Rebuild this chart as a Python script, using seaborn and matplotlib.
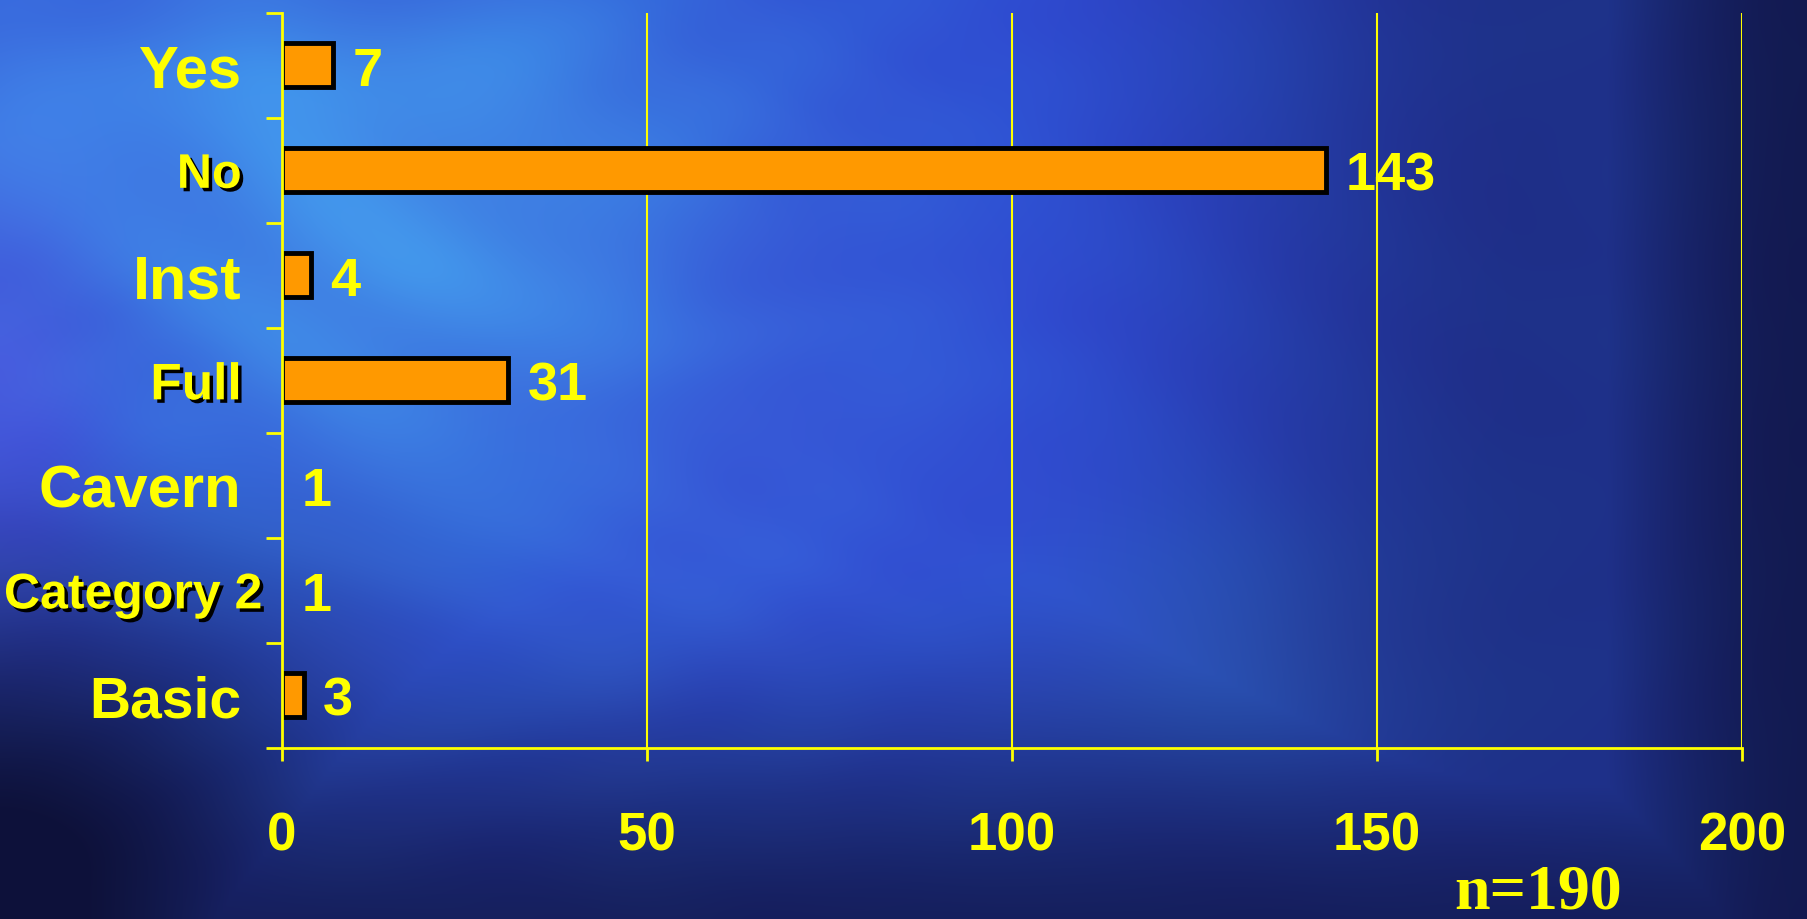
import numpy as np
import pandas as pd
import matplotlib
matplotlib.use("Agg")
import matplotlib.pyplot as plt
import matplotlib.patheffects as pe
import seaborn as sns

# data
categories = ["Yes", "No", "Inst", "Full", "Cavern", "Category 2", "Basic"]
counts = [7, 143, 4, 31, 1, 1, 3]
# Cavern and Category 2 carry a label but show no bar on the slide
bar_lengths = [7, 143, 4, 31, 0, 0, 3]
x_ticks = [0, 50, 100, 150, 200]
note = "n=190"

# label styling per category
label_sizes = [43, 35, 44, 37, 43, 36, 41]
shadowed = [False, True, False, True, False, True, False]

YELLOW = "#FFFF00"
ORANGE = "#FF9900"

sns.set_theme(style="white")
plt.rcParams["font.family"] = ["Liberation Sans", "DejaVu Sans"]

# ---- slide background (cloudy blue) ----
H, W = 460, 904
v, u = np.mgrid[0:1:H * 1j, 0:1:W * 1j]


def blob(cx, cy, sx, sy):
    return np.exp(-(((u - cx) / sx) ** 2 + ((v - cy) / sy) ** 2))


def mix(img, col, w):
    col = np.array(col) / 255.0
    return img * (1 - w[..., None]) + col * w[..., None]


def smooth(x):
    x = np.clip(x, 0, 1)
    return x * x * (3 - 2 * x)


img = np.ones((H, W, 3)) * np.array([45, 80, 210]) / 255.0
img = mix(img, (75, 190, 250), 0.85 * blob(0.22, 0.25, 0.18, 0.32))
img = mix(img, (70, 160, 245), 0.6 * blob(0.05, 0.12, 0.12, 0.2))
img = mix(img, (95, 90, 230), 0.5 * blob(0.0, 0.45, 0.06, 0.25))
img = mix(img, (60, 95, 220), 0.45 * blob(0.42, 0.45, 0.14, 0.3))
mott = 0.5 + 0.5 * np.sin(u * 23 + np.sin(v * 9) * 2) * np.sin(v * 17 + np.cos(u * 11) * 2)
img = mix(img, (50, 55, 200), 0.3 * mott)
mott2 = 0.5 + 0.5 * np.sin(u * 41 + np.cos(v * 13) * 3) * np.sin(v * 29 + np.sin(u * 7) * 3)
img = mix(img, (70, 130, 230), 0.15 * mott2 * smooth((0.7 - u) / 0.4))
img = mix(img, (55, 140, 190), 0.25 * blob(0.68, 0.72, 0.12, 0.15))

dark = np.maximum(smooth((v - 0.6) / 0.45) * 0.75, smooth((u - 0.76) / 0.24) * 0.8)
dark = np.maximum(dark, smooth((0.35 - u) / 0.35) * smooth((v - 0.45) / 0.5))
dark = np.maximum(dark, 0.45 * smooth((u - 0.55) / 0.3))
img = mix(img, (12, 14, 50), np.clip(dark, 0, 0.95))

fig = plt.figure(figsize=(18.07, 9.2), dpi=100)
bg = fig.add_axes([0, 0, 1, 1], zorder=0)
bg.imshow(img, aspect="auto", extent=[0, 1, 0, 1], interpolation="bilinear")
bg.axis("off")

ax = fig.add_axes([0.156, 0.186, 0.808, 0.799], zorder=1)
ax.patch.set_alpha(0)

df = pd.DataFrame({"category": categories, "length": bar_lengths})
sns.barplot(data=df, x="length", y="category", orient="h", color=ORANGE,
            saturation=1, edgecolor="black", linewidth=3.5, width=0.42, ax=ax)
# empty bars would leave a black edge stub at zero
for p in ax.patches:
    if p.get_width() == 0:
        p.set_visible(False)

ax.set_xlim(0, 200)
ax.set_ylim(len(categories) - 0.5, -0.5)
ax.set_xlabel("")
ax.set_ylabel("")

# axes lines and grid
for s in ["top", "right"]:
    ax.spines[s].set_visible(False)
for s in ["left", "bottom"]:
    ax.spines[s].set_color(YELLOW)
    ax.spines[s].set_linewidth(2)
ax.set_xticks(x_ticks)
ax.xaxis.grid(True, color=YELLOW, linewidth=1.5)
ax.yaxis.grid(False)
ax.set_axisbelow(True)
ax.tick_params(axis="x", direction="out", length=9, width=2, color=YELLOW,
               labelcolor=YELLOW, labelsize=38, pad=36, bottom=True)
for t in ax.get_xticklabels():
    t.set_fontweight("bold")

ax.set_yticks(np.arange(len(categories) + 1) - 0.5, minor=True)
ax.tick_params(axis="y", which="minor", direction="out", length=11.5, width=2,
               color=YELLOW, left=True)
ax.tick_params(axis="y", which="major", length=0, labelleft=False)

# category labels
for i, cat in enumerate(categories):
    dx = -14 if cat == "Category 2" else -29
    effects = [pe.SimplePatchShadow(offset=(2.5, -2.5), shadow_rgbFace="black", alpha=1),
               pe.Normal()] if shadowed[i] else None
    ax.annotate(cat, xy=(0, i), xycoords=ax.get_yaxis_transform(),
                xytext=(dx, 0), textcoords="offset points", ha="right",
                va="center_baseline", fontsize=label_sizes[i], fontweight="bold",
                color=YELLOW, path_effects=effects, annotation_clip=False)

# value labels
for i, (c, b) in enumerate(zip(counts, bar_lengths)):
    ax.annotate(str(c), xy=(b, i), xytext=(14, 0), textcoords="offset points",
                ha="left", va="center_baseline", fontsize=39, fontweight="bold",
                color=YELLOW, annotation_clip=False)

fig.text(0.851, 0.012, note, ha="center", va="baseline", fontsize=46,
         fontweight="bold", family=["Liberation Serif", "DejaVu Serif"], color=YELLOW)

fig.savefig("out.png", dpi=100)
